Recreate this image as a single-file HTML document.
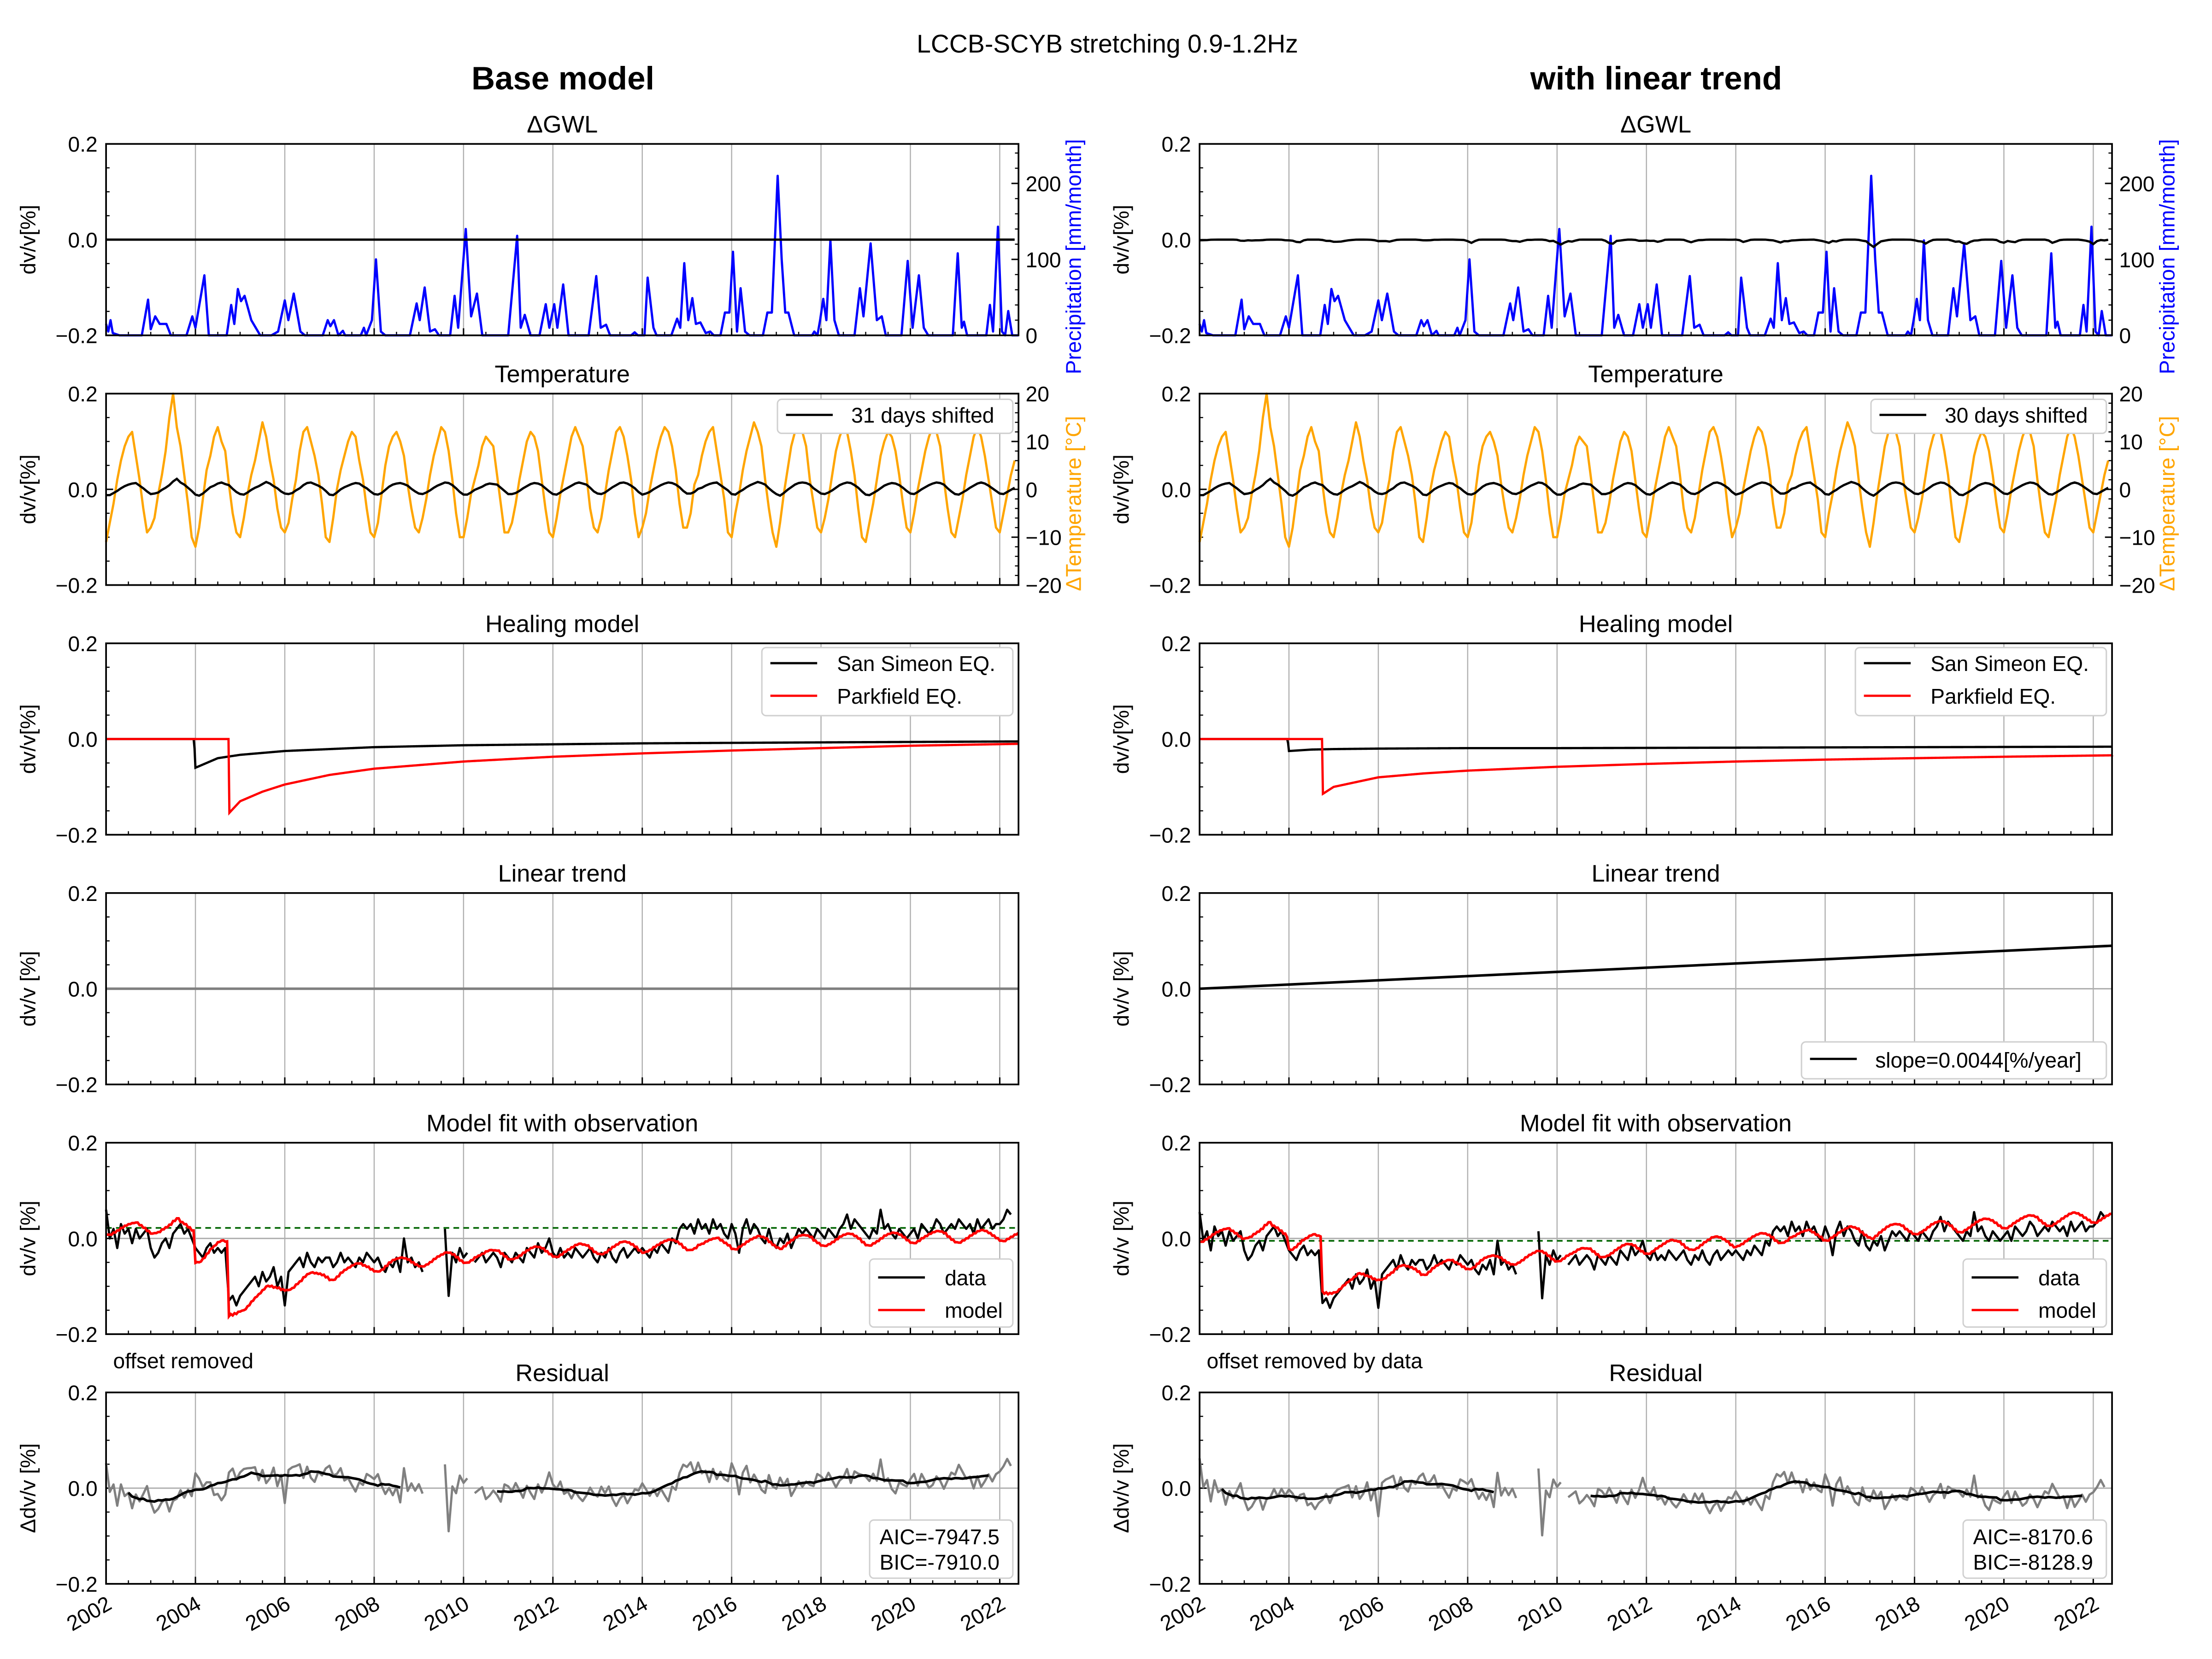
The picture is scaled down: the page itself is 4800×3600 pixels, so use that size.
<!DOCTYPE html>
<html><head><meta charset="utf-8"><style>
html,body{margin:0;padding:0;background:#fff}
svg{display:block}
text{font-family:"Liberation Sans",Arial,sans-serif}
</style></head><body>
<svg id="fig" xmlns="http://www.w3.org/2000/svg" width="4800" height="3600" viewBox="0 0 1560 1170">
<rect x="0" y="0" width="1560" height="1170" fill="#fff"/>
<text x="781" y="37" font-size="18" text-anchor="middle">LCCB-SCYB stretching 0.9-1.2Hz</text>
<text x="397" y="63" font-size="23" font-weight="bold" text-anchor="middle">Base model</text>
<text x="1168" y="63" font-size="23" font-weight="bold" text-anchor="middle">with linear trend</text>
<g id="plots"></g>
</svg>
<script>
// ---------- data ----------
const precipT=[2002.0,2002.05,2002.1,2002.15,2002.3,2002.8,2002.94,2003.0,2003.1,2003.2,2003.35,2003.45,2003.8,2003.93,2004.0,2004.2,2004.3,2004.7,2004.8,2004.87,2004.95,2005.02,2005.1,2005.25,2005.35,2005.45,2005.7,2005.85,2006.0,2006.08,2006.2,2006.35,2006.45,2006.85,2006.96,2007.02,2007.1,2007.2,2007.3,2007.35,2007.7,2007.77,2007.82,2007.95,2008.04,2008.15,2008.25,2008.8,2008.95,2009.02,2009.13,2009.25,2009.36,2009.45,2009.7,2009.8,2009.88,2010.05,2010.17,2010.3,2010.42,2011.0,2011.2,2011.28,2011.37,2011.5,2011.7,2011.84,2011.92,2012.03,2012.1,2012.23,2012.35,2012.8,2012.97,2013.07,2013.19,2013.28,2013.75,2013.83,2013.9,2014.05,2014.12,2014.25,2014.32,2014.65,2014.78,2014.85,2014.94,2015.03,2015.12,2015.2,2015.3,2015.42,2015.52,2015.6,2015.75,2015.85,2015.95,2016.03,2016.12,2016.2,2016.3,2016.4,2016.7,2016.8,2016.9,2017.03,2017.12,2017.2,2017.27,2017.4,2017.8,2017.85,2017.92,2017.98,2018.05,2018.12,2018.21,2018.3,2018.4,2018.75,2018.87,2018.95,2019.11,2019.25,2019.36,2019.45,2019.8,2019.94,2020.05,2020.19,2020.3,2020.4,2020.95,2021.06,2021.15,2021.2,2021.27,2021.7,2021.78,2021.85,2021.96,2022.05,2022.12,2022.19,2022.28,2022.42];
const precipV=[15,5,20,3,0,0,47,8,25,15,15,0,0,25,10,79,0,0,40,15,61,45,52,20,10,0,0,5,46,20,55,5,0,0,20,12,20,0,6,0,0,10,0,20,100,5,0,0,42,20,63,5,8,0,0,52,10,140,25,55,0,0,131,10,27,0,0,41,10,41,10,67,0,0,78,10,14,0,0,4,0,0,76,10,0,0,22,10,95,20,49,15,17,3,5,0,0,30,30,110,5,62,5,0,0,30,30,210,100,30,30,0,0,5,0,20,48,20,125,20,0,0,62,25,121,20,25,0,0,98,10,79,10,0,0,108,10,18,0,0,40,5,143,5,0,32,0,0];
const tempC=[
-11,-7,-3,2,6,9,11,12,7,2,-4,-9,
-8,-6,-1,3,8,15,20,13,9,3,-3,-10,
-12,-8,-2,4,7,11,13,10,8,1,-5,-9,
-10,-6,-1,3,6,10,14,11,6,2,-4,-8,
-9,-7,-2,2,8,12,13,10,7,3,-3,-10,
-11,-6,0,4,7,10,12,11,6,2,-4,-9,
-10,-7,-1,5,9,11,12,10,7,1,-4,-8,
-9,-6,-2,3,7,10,13,12,8,2,-5,-10,
-10,-6,-1,2,5,9,11,10,9,3,-3,-9,
-9,-7,-3,2,6,10,12,11,8,2,-4,-9,
-10,-6,-1,3,7,11,13,11,9,3,-4,-8,
-9,-6,-1,4,8,12,13,11,7,2,-5,-10,
-8,-5,0,4,8,11,13,12,9,4,-3,-8,
-8,-5,1,3,7,10,12,13,8,3,-2,-9,
-10,-5,-1,4,8,11,14,12,9,2,-4,-9,
-12,-7,-1,4,9,12,13,12,9,2,-3,-8,
-9,-6,-2,3,8,11,13,12,8,3,-4,-10,
-11,-7,-3,2,7,10,12,11,8,3,-3,-8,
-9,-5,0,4,8,11,13,12,9,2,-4,-9,
-10,-6,-2,3,7,11,13,11,7,2,-3,-8,
-9,-5,-1,3,6];
const dvvData=[
0.06,0.0,0.02,-0.02,0.03,0.01,0.02,-0.01,0.02,0.0,0.01,0.02,
-0.02,-0.04,-0.03,-0.01,0.0,-0.02,0.01,0.02,0.03,0.01,0.02,0.0,
-0.02,-0.03,-0.04,-0.02,-0.01,-0.03,-0.02,-0.03,-0.02,-0.13,-0.12,-0.14,
-0.12,-0.11,-0.1,-0.09,-0.08,-0.1,-0.07,-0.09,-0.08,-0.06,-0.1,-0.08,
-0.14,-0.07,-0.06,-0.05,-0.04,-0.06,-0.03,-0.05,-0.06,-0.04,-0.05,-0.04,
-0.04,-0.06,-0.05,-0.03,-0.05,-0.04,-0.05,-0.06,-0.04,-0.05,-0.03,-0.04,
-0.05,-0.04,-0.06,-0.07,-0.05,-0.06,-0.04,-0.07,0.0,-0.05,-0.04,-0.06,
-0.05,-0.07,null,null,null,null,null,0.02,-0.12,-0.03,-0.05,-0.02,
-0.04,-0.03,null,-0.05,-0.04,-0.03,-0.05,-0.04,-0.03,-0.04,-0.06,-0.03,
-0.04,-0.05,-0.03,-0.04,-0.05,-0.02,-0.03,-0.04,-0.01,-0.03,-0.02,0.0,
-0.03,-0.04,-0.02,-0.04,-0.03,-0.04,-0.02,-0.03,-0.04,-0.03,-0.02,-0.04,
-0.05,-0.03,-0.04,-0.02,-0.04,-0.05,-0.03,-0.02,-0.04,-0.03,-0.02,-0.03,
-0.02,-0.03,-0.04,-0.02,-0.03,-0.01,-0.02,-0.03,0.0,-0.01,0.02,0.03,
0.02,0.03,0.01,0.04,0.02,0.03,0.01,0.04,0.02,0.03,0.01,0.0,
0.03,0.01,-0.03,0.02,0.04,0.01,0.03,0.02,0.0,-0.01,0.02,-0.01,
-0.02,0.0,-0.01,0.01,-0.02,0.0,0.02,0.01,0.02,0.01,0.0,0.02,
0.01,0.0,0.02,0.01,0.0,0.02,0.03,0.05,0.02,0.04,0.03,0.02,
0.01,0.0,0.02,0.01,0.06,0.02,0.03,0.01,0.0,0.02,0.01,0.0,
0.01,0.02,0.0,0.03,0.02,0.01,0.02,0.04,0.03,0.01,0.02,0.03,
0.02,0.04,0.03,0.02,0.03,0.01,0.04,0.02,0.03,0.04,0.02,0.03,
0.03,0.04,0.06,0.05];
const ssT=[2003.97,2004.0,2004.5,2005,2006,2008,2010,2014,2018,2022.42];
const ssBase=[0,-0.06,-0.04,-0.033,-0.025,-0.017,-0.013,-0.009,-0.007,-0.005];
const ssTrend=[0,-0.025,-0.022,-0.021,-0.02,-0.019,-0.019,-0.018,-0.017,-0.016];
const pfT=[2004.74,2004.75,2005,2005.5,2006,2007,2008,2010,2012,2014,2016,2018,2020,2022.42];
const pfBase=[0,-0.155,-0.13,-0.11,-0.095,-0.075,-0.062,-0.047,-0.037,-0.03,-0.024,-0.019,-0.014,-0.01];
const pfTrend=[0,-0.115,-0.1,-0.09,-0.08,-0.072,-0.066,-0.058,-0.052,-0.047,-0.043,-0.04,-0.037,-0.034];
const tempCoef=[0.0011,0.0011];
const shiftDays=[31,30];
const offsets=[0.02,0.005];
const greenLine=[0.022,-0.005];
const trendSlope=[0,0.0044];
const dataShift=[0,-0.005];
const aicText=["AIC=-7947.5","AIC=-8170.6"];
const bicText=["BIC=-7910.0","BIC=-8128.9"];
const yearTicks=[2002,2004,2006,2008,2010,2012,2014,2016,2018,2020,2022];
const dvTicks=[-0.2,0,0.2];
const precipTicks=[0,100,200];
const tempTicks=[-20,-10,0,10,20];

// ---------- helpers ----------
const NS="http://www.w3.org/2000/svg";
const plotRoot=document.getElementById('plots');
const T0=2002,T1=2022.42,PW=643.5,PH=135;
const X0=[74.8,846];
function panelTop(r){return 101.5+176.1*r;}
function xs(t,s){return X0[s]+(t-T0)/(T1-T0)*PW;}
function ys(v,r,mn,mx){mn=(mn===undefined)?-0.2:mn;mx=(mx===undefined)?0.2:mx;return panelTop(r)+(mx-v)/(mx-mn)*PH;}
function mk(tag,attrs,parent){const e=document.createElementNS(NS,tag);for(const k in attrs)e.setAttribute(k,attrs[k]);(parent||plotRoot).appendChild(e);return e;}
function txt(s,attrs,parent){const e=mk('text',attrs,parent);e.textContent=s;return e;}
function minus(s){return String(s).replace('-','\u2212');}
function interp(T,V,t){if(t<T[0])return V[0];for(let i=1;i<T.length;i++){if(t<=T[i]){const f=(t-T[i-1])/(T[i]-T[i-1]);return V[i-1]+f*(V[i]-V[i-1]);}}return V[V.length-1];}
function mt(i){return T0+i/12;}
function pathFrom(pts){let d='';let pen=false;for(const p of pts){if(p===null){pen=false;continue;}d+=(pen?'L':'M')+p[0].toFixed(2)+','+p[1].toFixed(2);pen=true;}return d;}
function tempAt(t){const i=Math.round((t-T0)*12);const j=Math.max(0,Math.min(tempC.length-1,i));return tempC[j];}
function tempEff(s,t){return tempCoef[s]*tempAt(t-shiftDays[s]/365.25);}
function ssv(s,t){return t<ssT[0]?0:interp(ssT,s?ssTrend:ssBase,t);}
function pfv(s,t){return t<pfT[0]?0:interp(pfT,s?pfTrend:pfBase,t);}
function modelAt(s,t){return offsets[s]+tempEff(s,t)+ssv(s,t)+pfv(s,t)+trendSlope[s]*(t-T0);}
function gwlAt(s,t){if(!s)return 0;let acc=0,n=0;for(let k=-2;k<=0;k++){acc+=interp(precipT,precipV,t+k/24);n++;}return -0.00009*acc/n;}

const titles=["ΔGWL","Temperature","Healing model","Linear trend","Model fit with observation","Residual"];
const ylabels=["dv/v[%]","dv/v[%]","dv/v[%]","dv/v [%]","dv/v [%]","Δdv/v [%]"];

for(let s=0;s<2;s++){
 for(let r=0;r<6;r++){
  const g=mk('g',{});
  
  
  const x0=X0[s],y0=panelTop(r);
  for(const yr of yearTicks){const gl=mk('line',{x1:xs(yr,s),x2:xs(yr,s),y1:y0,y2:y0+PH,stroke:'#b0b0b0','stroke-width':0.8},g);
   
   }
  if(r>=3){const zl=mk('line',{x1:x0,x2:x0+PW,y1:ys(0,r),y2:ys(0,r),stroke:'#b0b0b0','stroke-width':1},g);
   
   }
  const tt=txt(titles[r],{x:x0+PW/2,y:y0-8,'font-size':17,'text-anchor':'middle'},g);
  
  
  const yl=txt(ylabels[r],{x:0,y:0,'font-size':15,'text-anchor':'middle',transform:'translate('+(x0-50)+','+(y0+PH/2)+') rotate(-90)'},g);
  
  
  for(const v of dvTicks){const tl=txt(minus(v.toFixed(1)),{x:x0-6,y:ys(v,r)+5.5,'font-size':15,'text-anchor':'end'},g);
   
   
   mk('line',{x1:x0,x2:x0+5,y1:ys(v,r),y2:ys(v,r),stroke:'#000','stroke-width':1},g);}
  for(let v=-0.15;v<0.2;v+=0.05){if(Math.abs(v)<1e-6)continue;mk('line',{x1:x0,x2:x0+2.5,y1:ys(v,r),y2:ys(v,r),stroke:'#000','stroke-width':0.8},g);}
  for(let yr=2002;yr<=2022.4;yr+=0.5){const maj=(Math.abs(yr%2)<1e-6);mk('line',{x1:xs(yr,s),x2:xs(yr,s),y1:y0+PH,y2:y0+PH-(maj?5:2.5),stroke:'#000','stroke-width':maj?1:0.8},g);}
  if(r===5){for(const yr of yearTicks){const xl=txt(String(yr),{x:0,y:0,'font-size':15,'text-anchor':'end',transform:'translate('+(xs(yr,s)+5)+','+(y0+PH+17)+') rotate(-30)'},g);
   
   }}
  if(r===0){
   const pts=precipT.map((t,i)=>[xs(t,s),ys(precipV[i],r,0,252)]);
   const pl=mk('path',{d:pathFrom(pts),fill:'none',stroke:'#0000ff','stroke-width':1.6,'stroke-linejoin':'round'},g);
   
   
   const gp=[];for(let i=0;i<tempC.length;i++){const t=mt(i);gp.push([xs(t,s),ys(gwlAt(s,t),r)]);}
   const gl=mk('path',{d:pathFrom(gp),fill:'none',stroke:'#000','stroke-width':1.6},g);
   
   
   for(const v of precipTicks){const tl=txt(String(v),{x:x0+PW+5,y:ys(v,r,0,252)+5.5,'font-size':15},g);
    
    
    mk('line',{x1:x0+PW,x2:x0+PW-5,y1:ys(v,r,0,252),y2:ys(v,r,0,252),stroke:'#000','stroke-width':1},g);}
   for(let v=20;v<250;v+=20){if(v%100===0)continue;mk('line',{x1:x0+PW,x2:x0+PW-2.5,y1:ys(v,r,0,252),y2:ys(v,r,0,252),stroke:'#000','stroke-width':0.8},g);}
   const rl=txt('Precipitation [mm/month]',{x:0,y:0,'font-size':15,fill:'#0000ff','text-anchor':'middle',transform:'translate('+(x0+PW+44)+','+(y0+PH/2+12)+') rotate(-90)'},g);
   
   
  }
  if(r===1){
   const tp=[];for(let i=0;i<tempC.length;i++)tp.push([xs(mt(i),s),ys(tempC[i],r,-20,20)]);
   const pl=mk('path',{d:pathFrom(tp),fill:'none',stroke:'#ffa500','stroke-width':1.6,'stroke-linejoin':'round'},g);
   
   
   const ep=[];for(let i=0;i<tempC.length;i++){const t=mt(i);ep.push([xs(t,s),ys(tempEff(s,t),r)]);}
   const el=mk('path',{d:pathFrom(ep),fill:'none',stroke:'#000','stroke-width':1.6},g);
   
   
   for(const v of tempTicks){const tl=txt(minus(v),{x:x0+PW+5,y:ys(v,r,-20,20)+5.5,'font-size':15},g);
    
    
    mk('line',{x1:x0+PW,x2:x0+PW-5,y1:ys(v,r,-20,20),y2:ys(v,r,-20,20),stroke:'#000','stroke-width':1},g);}
   for(let v=-18;v<20;v+=2){if(v%10===0)continue;mk('line',{x1:x0+PW,x2:x0+PW-2.5,y1:ys(v,r,-20,20),y2:ys(v,r,-20,20),stroke:'#000','stroke-width':0.8},g);}
   const rl=txt('ΔTemperature [°C]',{x:0,y:0,'font-size':15,fill:'#ffa500','text-anchor':'middle',transform:'translate('+(x0+PW+44)+','+(y0+PH/2+10)+') rotate(-90)'},g);
   
   
   const lg=mk('g',{},g);
   
   
   mk('rect',{x:x0+PW-170,y:y0+4,width:166,height:24,rx:3,fill:'#fff',stroke:'#d0d0d0','stroke-width':1},lg);
   mk('line',{x1:x0+PW-164,x2:x0+PW-131,y1:y0+15,y2:y0+15,stroke:'#000','stroke-width':1.6},lg);
   txt(shiftDays[s]+' days shifted',{x:x0+PW-118,y:y0+20.5,'font-size':15},lg);
  }
  if(r===2){
   const tt2=[];for(let t=T0;t<=T1;t+=0.02)tt2.push(t);tt2.push(T1);
   const sp=tt2.map(t=>[xs(t,s),ys(ssv(s,t),r)]);
   const pp=tt2.map(t=>[xs(t,s),ys(pfv(s,t),r)]);
   const l1=mk('path',{d:pathFrom(sp),fill:'none',stroke:'#000','stroke-width':1.6},g);
   
   
   const l2=mk('path',{d:pathFrom(pp),fill:'none',stroke:'#ff0000','stroke-width':1.6},g);
   
   
   const lg=mk('g',{},g);
   
   
   mk('rect',{x:x0+PW-181,y:y0+3,width:177,height:48,rx:3,fill:'#fff',stroke:'#d0d0d0','stroke-width':1},lg);
   mk('line',{x1:x0+PW-175,x2:x0+PW-142,y1:y0+14,y2:y0+14,stroke:'#000','stroke-width':1.6},lg);
   txt('San Simeon EQ.',{x:x0+PW-128,y:y0+19.5,'font-size':15},lg);
   mk('line',{x1:x0+PW-175,x2:x0+PW-142,y1:y0+37,y2:y0+37,stroke:'#ff0000','stroke-width':1.6},lg);
   txt('Parkfield EQ.',{x:x0+PW-128,y:y0+42.5,'font-size':15},lg);
  }
  if(r===3){
   const tl=mk('line',{x1:xs(T0,s),x2:xs(T1,s),y1:ys(0,r),y2:ys(trendSlope[s]*(T1-T0),r),stroke:s?'#000':'#808080','stroke-width':1.8},g);
   
   
   if(s){const lg=mk('g',{},g);
    
    
    mk('rect',{x:x0+PW-219,y:y0+PH-30,width:215,height:26,rx:3,fill:'#fff',stroke:'#d0d0d0','stroke-width':1},lg);
    mk('line',{x1:x0+PW-213,x2:x0+PW-180,y1:y0+PH-18,y2:y0+PH-18,stroke:'#000','stroke-width':1.6},lg);
    txt('slope='+trendSlope[s]+'[%/year]',{x:x0+PW-167,y:y0+PH-12,'font-size':15},lg);}
  }
  if(r===4){
   const gd=mk('line',{x1:x0,x2:x0+PW,y1:ys(greenLine[s],r),y2:ys(greenLine[s],r),stroke:'#006400','stroke-width':1.2,'stroke-dasharray':'4,3'},g);
   
   
   const dp=dvvData.map((v,i)=>v===null?null:[xs(mt(i),s),ys(v+dataShift[s],r)]);
   const dl=mk('path',{d:pathFrom(dp),fill:'none',stroke:'#000','stroke-width':1.6,'stroke-linejoin':'round'},g);
   
   
   const mp=[];for(let t=T0;t<=T1;t+=1/24)mp.push([xs(t,s),ys(modelAt(s,t),r)]);
   const ml=mk('path',{d:pathFrom(mp),fill:'none',stroke:'#ff0000','stroke-width':1.8},g);
   
   
   const lg=mk('g',{},g);
   
   
   mk('rect',{x:x0+PW-105,y:y0+PH-53,width:101,height:48,rx:3,fill:'#fff',stroke:'#d0d0d0','stroke-width':1},lg);
   mk('line',{x1:x0+PW-99,x2:x0+PW-66,y1:y0+PH-40,y2:y0+PH-40,stroke:'#000','stroke-width':1.6},lg);
   txt('data',{x:x0+PW-52,y:y0+PH-34.5,'font-size':15},lg);
   mk('line',{x1:x0+PW-99,x2:x0+PW-66,y1:y0+PH-17,y2:y0+PH-17,stroke:'#ff0000','stroke-width':1.6},lg);
   txt('model',{x:x0+PW-52,y:y0+PH-11.5,'font-size':15},lg);
   const on=txt(s?'offset removed by data':'offset removed',{x:x0+5,y:y0+PH+24,'font-size':15},g);
   
   
  }
  if(r===5){
   const res=dvvData.map((v,i)=>v===null?null:(v+dataShift[s]-modelAt(s,mt(i))));
   const rp=res.map((v,i)=>v===null?null:[xs(mt(i),s),ys(v,r)]);
   const rl=mk('path',{d:pathFrom(rp),fill:'none',stroke:'#808080','stroke-width':1.6,'stroke-linejoin':'round'},g);
   
   
   const sm=[];for(let i=0;i<res.length;i++){let a=0,n=0,ok=true;for(let k=-6;k<=6;k++){const v=res[i+k];if(v===null||v===undefined){ok=false;break;}a+=v;n++;}sm.push(ok?[xs(mt(i),s),ys(a/n,r)]:null);}
   const sl=mk('path',{d:pathFrom(sm),fill:'none',stroke:'#000','stroke-width':1.8},g);
   
   
   const bx=mk('g',{},g);
   
   
   mk('rect',{x:x0+PW-105,y:y0+PH-45,width:101,height:41,rx:3,fill:'#fff',stroke:'#d0d0d0','stroke-width':1},bx);
   txt(aicText[s],{x:x0+PW-98,y:y0+PH-28,'font-size':15},bx);
   txt(bicText[s],{x:x0+PW-98,y:y0+PH-10,'font-size':15},bx);
  }
  const fr=mk('rect',{x:x0,y:y0,width:PW,height:PH,fill:'none',stroke:'#000','stroke-width':1.2},g);
  
  
 }
}
</script>
</body></html>
